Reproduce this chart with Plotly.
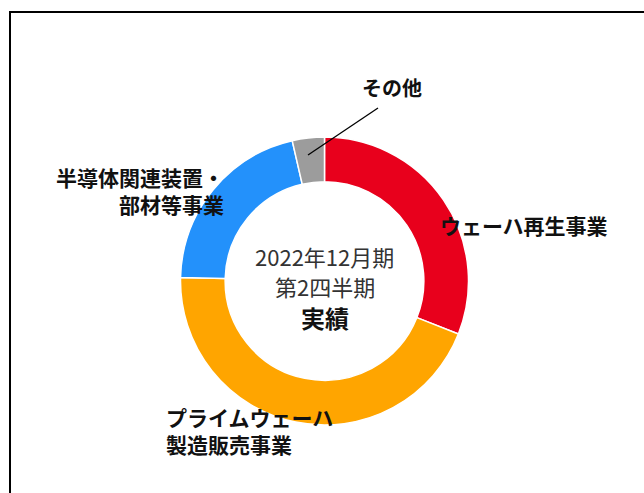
import plotly.graph_objects as go

# Segment sales share (%), clockwise from 12 o'clock
segments = ["ウェーハ再生事業", "プライムウェーハ製造販売事業", "半導体関連装置・部材等事業", "その他"]
shares = [31.0, 44.4, 21.0, 3.6]
colors = ["#E8001C", "#FFA500", "#2391FB", "#9C9C9C"]

# Text in the middle of the ring
center_lines = ["2022年12月期", "第2四半期", "<b>実績</b>"]

W, H = 644, 493


def px(x):
    return x / W


def py(y):
    return 1 - y / H


cx, cy, r = 324.5, 281, 144

fig = go.Figure(
    go.Pie(
        labels=segments,
        values=shares,
        sort=False,
        direction="clockwise",
        rotation=0,
        hole=0.69,
        marker=dict(colors=colors, line=dict(color="white", width=1.5)),
        textinfo="none",
        hoverinfo="label+percent",
        domain=dict(x=[px(cx - r), px(cx + r)], y=[py(cy + r), py(cy - r)]),
    )
)

font_jp = "Noto Sans CJK JP, Noto Sans, sans-serif"

annotations = [
    dict(text="<b>ウェーハ再生事業</b>", x=px(438), y=py(225), xanchor="left", yanchor="middle",
         font=dict(size=21, color="#111111")),
    dict(text="<b>半導体関連装置・<br>部材等事業</b>", x=px(226), y=py(190), xanchor="right", yanchor="middle",
         align="right", font=dict(size=21, color="#111111")),
    dict(text="<b>プライムウェーハ<br>製造販売事業</b>", x=px(164), y=py(430), xanchor="left", yanchor="middle",
         align="left", font=dict(size=21, color="#111111")),
    dict(text="<b>その他</b>", x=px(392), y=py(87), xanchor="center", yanchor="middle",
         font=dict(size=20, color="#111111")),
]
center_sizes = [22, 22, 24]
center_colors = ["#333333", "#333333", "#111111"]
center_y = [256, 286, 317]
for line, size, col, yy in zip(center_lines, center_sizes, center_colors, center_y):
    annotations.append(dict(text=line, x=px(cx), y=py(yy), xanchor="center", yanchor="middle",
                            borderpad=0, font=dict(size=size, color=col)))

for a in annotations:
    a.update(xref="paper", yref="paper", showarrow=False)
    a["font"]["family"] = font_jp

shapes = [
    # leader line for the small segment
    dict(type="line", xref="paper", yref="paper", x0=px(378), y0=py(108), x1=px(308), y1=py(155),
         line=dict(color="#000000", width=1.3)),
    # frame around the chart
    dict(type="rect", xref="paper", yref="paper", x0=px(10), y0=py(520), x1=px(700), y1=py(12),
         line=dict(color="#000000", width=2), fillcolor="rgba(0,0,0,0)"),
]

fig.update_layout(
    width=W,
    height=H,
    margin=dict(l=0, r=0, t=0, b=0),
    paper_bgcolor="white",
    plot_bgcolor="white",
    showlegend=False,
    annotations=annotations,
    shapes=shapes,
    font=dict(family=font_jp),
)

fig.write_html("out.html")
